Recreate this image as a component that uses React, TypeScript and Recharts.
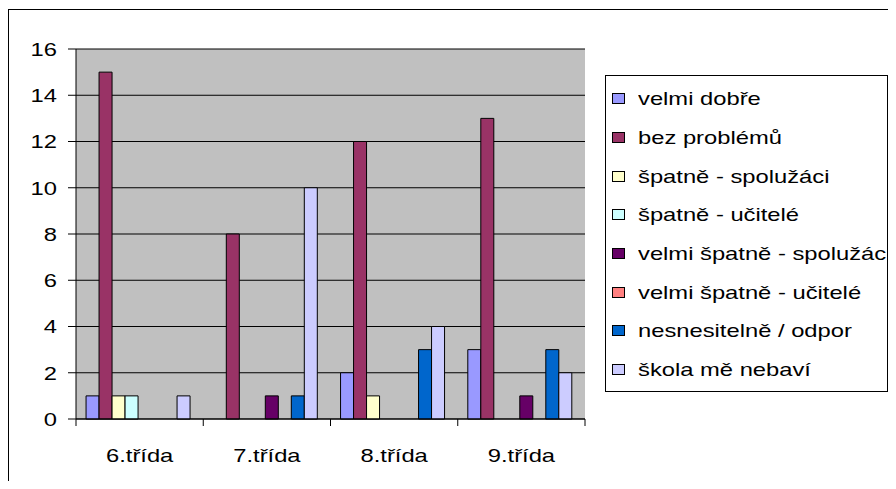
import React from 'react';
import { BarChart, Bar, XAxis, YAxis, CartesianGrid } from 'recharts';

const categories = ['6.třída', '7.třída', '8.třída', '9.třída'];
const seriesNames = [
  'velmi dobře',
  'bez problémů',
  'špatně - spolužáci',
  'špatně - učitelé',
  'velmi špatně - spolužáci',
  'velmi špatně - učitelé',
  'nesnesitelně / odpor',
  'škola mě nebaví',
];
const velmiDobre = [1, 0, 2, 3];
const bezProblemu = [15, 8, 12, 13];
const spatneSpoluzaci = [1, 0, 1, 0];
const spatneUcitele = [1, 0, 0, 0];
const velmiSpatneSpoluzaci = [0, 1, 0, 1];
const velmiSpatneUcitele = [0, 0, 0, 0];
const nesnesitelne = [0, 1, 3, 3];
const skolaNebavi = [1, 10, 4, 2];
const seriesColors = ['#9999FF', '#993366', '#FFFFCC', '#CCFFFF', '#660066', '#FF8080', '#0066CC', '#CCCCFF'];
const yTicks = [0, 2, 4, 6, 8, 10, 12, 14, 16];

const seriesValues = [
  velmiDobre,
  bezProblemu,
  spatneSpoluzaci,
  spatneUcitele,
  velmiSpatneSpoluzaci,
  velmiSpatneUcitele,
  nesnesitelne,
  skolaNebavi,
];

const data = categories.map((name, ci) => {
  const row: Record<string, string | number> = { name };
  seriesValues.forEach((vals, si) => {
    row['s' + si] = vals[ci];
  });
  return row;
});

const FONT = '"Liberation Sans", Arial, Helvetica, sans-serif';
const FS = 19;
const SX = 1.25;

const XTick = (props: any) => {
  const { x, y, payload, index, visibleTicksCount, width } = props;
  const half = payload && typeof payload.offset === 'number' && payload.offset > 0 ? payload.offset : width / visibleTicksCount / 2;
  return (
    <g>
      <line x1={x - half} x2={x - half} y1={y} y2={y + 7} stroke="#000" />
      {index === visibleTicksCount - 1 && <line x1={x + half} x2={x + half} y1={y} y2={y + 7} stroke="#000" />}
      <text
        transform={`translate(${x},${y + 43}) scale(${SX},1)`}
        textAnchor="middle"
        fontSize={FS}
        fontFamily={FONT}
        fill="#000"
      >
        {payload.value}
      </text>
    </g>
  );
};

const YTick = (props: any) => {
  const { x, y, payload } = props;
  return (
    <text
      transform={`translate(${x},${y}) scale(${SX},1)`}
      textAnchor="end"
      dy="0.355em"
      fontSize={FS}
      fontFamily={FONT}
      fill="#000"
    >
      {payload.value}
    </text>
  );
};

export default function App() {
  return (
    <div style={{ position: 'relative', width: 880, height: 473, background: '#fff' }}>
      <div style={{ position: 'absolute', left: 0, top: 0, width: 880, height: 473, overflow: 'hidden' }}>
        <div
          style={{
            position: 'absolute',
            left: 0,
            top: 1,
            width: 2000,
            height: 2000,
            border: '1px solid #000',
          }}
        />
      </div>
      <div style={{ position: 'absolute', left: 0, top: 0 }}>
        <BarChart
          width={880}
          height={473}
          data={data}
          margin={{ top: 41, right: 303, bottom: 22, left: 8 }}
          barCategoryGap="7.9%"
          barGap={0}
        >
          <CartesianGrid vertical={false} stroke="#000" fill="#C0C0C0" fillOpacity={1} />
          <XAxis
            dataKey="name"
            height={40}
            tickSize={0}
            tickMargin={0}
            tickLine={false}
            axisLine={{ stroke: '#000' }}
            tick={<XTick />}
            interval={0}
          />
          <XAxis
            xAxisId="top"
            orientation="top"
            dataKey="name"
            height={0}
            tick={false}
            tickLine={false}
            axisLine={{ stroke: '#808080' }}
          />
          <YAxis
            width={60}
            domain={[0, 16]}
            ticks={yTicks}
            interval={0}
            tickSize={8}
            tickMargin={11}
            tickLine={{ stroke: '#000' }}
            axisLine={{ stroke: '#000' }}
            tick={<YTick />}
          />
          <YAxis
            yAxisId="right"
            orientation="right"
            width={0}
            domain={[0, 16]}
            tick={false}
            tickLine={false}
            axisLine={{ stroke: '#808080' }}
          />
          {seriesNames.map((n, i) => (
            <Bar
              key={n}
              dataKey={'s' + i}
              name={n}
              fill={seriesColors[i]}
              stroke="#000"
              strokeWidth={1}
              isAnimationActive={false}
            />
          ))}
        </BarChart>
      </div>
      <div
        style={{
          position: 'absolute',
          left: 597,
          top: 67,
          width: 283,
          height: 317,
          border: '1px solid #000',
          background: '#fff',
          boxSizing: 'border-box',
          paddingTop: 3.45,
        }}
      >
        {seriesNames.map((n, i) => (
          <div key={n} style={{ height: 38.7, display: 'flex', alignItems: 'center', position: 'relative' }}>
            <div
              style={{
                position: 'absolute',
                left: 6,
                width: 13,
                height: 11,
                boxSizing: 'border-box',
                border: '1px solid #000',
                background: seriesColors[i],
              }}
            />
            <span
              style={{
                position: 'absolute',
                left: 32,
                fontFamily: FONT,
                fontSize: FS,
                lineHeight: 1,
                whiteSpace: 'nowrap',
                transform: `scaleX(${SX})`,
                transformOrigin: 'left center',
                color: '#000',
              }}
            >
              {n}
            </span>
          </div>
        ))}
      </div>
    </div>
  );
}
